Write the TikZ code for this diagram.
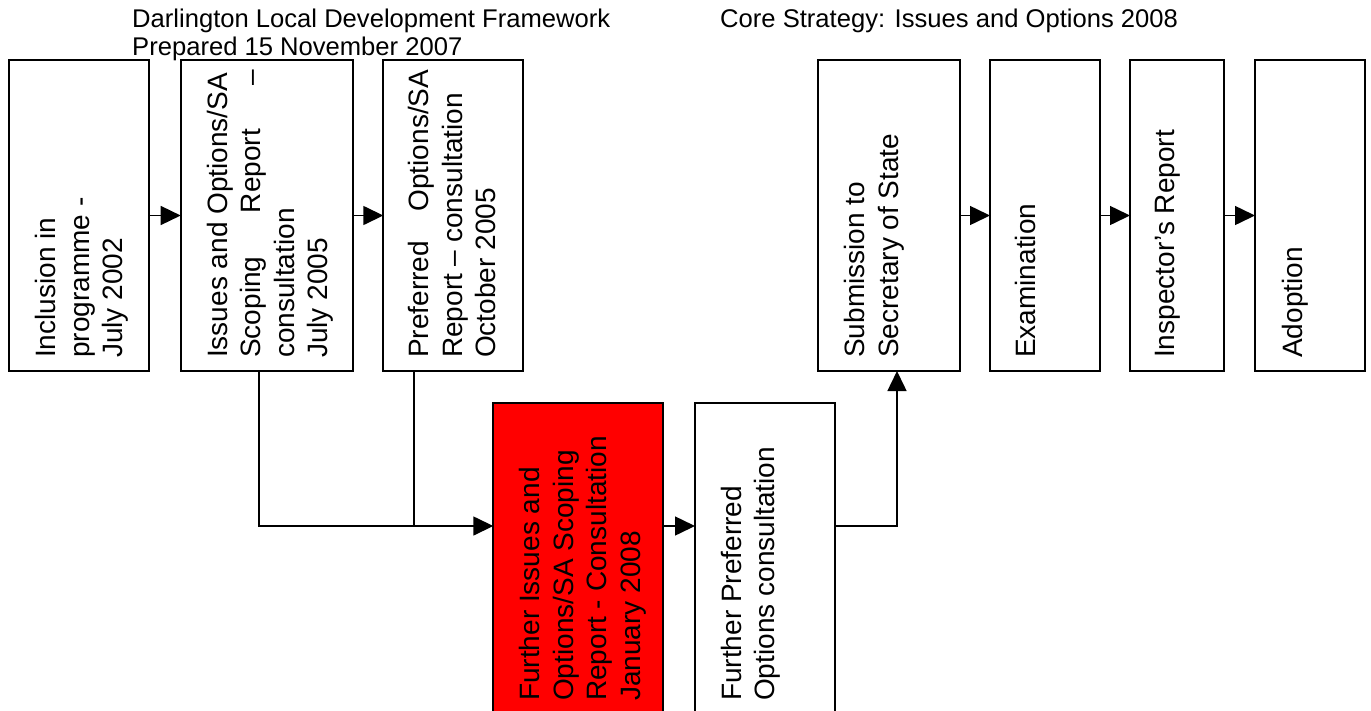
\documentclass[tikz,border=0pt]{standalone}
\usepackage{fontspec}
\setmainfont{Liberation Sans}
\usetikzlibrary{arrows.meta}
\begin{document}
\begin{tikzpicture}[x=1pt,y=-1pt,
  stage/.style={draw=black, line width=1.8pt, minimum width=#1, minimum height=311pt, inner sep=0pt, outer sep=0pt},
  lbl/.style={rotate=90, anchor=north west, inner sep=0pt, align=left, font=\fontsize{28}{33.5}\selectfont},
  hdr/.style={anchor=base west, inner sep=0pt, font=\fontsize{25.6}{27.5}\selectfont},
  conn/.style={line width=1.5pt},
  arr/.style={line width=1.5pt, -{Triangle[length=20pt,width=19pt]}}]
\useasboundingbox (0,0) rectangle (1371,710);
\clip (0,0) rectangle (1371,710);

% header texts
\node[hdr] (h1) at (132,27.7) {Darlington Local Development Framework};
\node[hdr] (h2) at (132,55.2) {Prepared 15 November 2007};
\node[hdr] (h3) at (720,27.7) {Core Strategy: Issues and Options 2008};

% top row of boxes
\node[stage=140] (A) at (79.3,215.5) {};
\node[stage=172.3] (B) at (266.85,215.5) {};
\node[stage=139.4] (C) at (453,215.5) {};
\node[stage=141.7] (D) at (889.15,215.5) {};
\node[stage=110] (E) at (1045,215.5) {};
\node[stage=94] (F) at (1177,215.5) {};
\node[stage=110] (G) at (1310,215.5) {};

% lower boxes
\node[stage=170, fill=red] (R) at (578.3,558.5) {};
\node[stage=140] (P) at (765,558.5) {};

% labels
\node[lbl] (A-t) at ([xshift=26pt,yshift=13pt]A.south west) {Inclusion in\\programme -\\July 2002};
\node[lbl] (B-t) at ([xshift=26pt,yshift=13pt]B.south west) {Issues and Options/SA\\\makebox[288pt][s]{Scoping Report –}\\consultation\\July 2005};
\node[lbl] (C-t) at ([xshift=25pt,yshift=13pt]C.south west) {\makebox[288pt][s]{Preferred Options/SA}\\Report – consultation\\October 2005};
\node[lbl] (D-t) at ([xshift=26pt,yshift=13pt]D.south west) {Submission to\\Secretary of State};
\node[lbl] (E-t) at ([xshift=25pt,yshift=13pt]E.south west) {Examination};
\node[lbl] (F-t) at ([xshift=25pt,yshift=13pt]F.south west) {Inspector’s Report};
\node[lbl] (G-t) at ([xshift=27pt,yshift=13pt]G.south west) {Adoption};
\node[lbl] (R-t) at ([xshift=26pt,yshift=13pt]R.south west) {Further Issues and\\Options/SA Scoping\\Report - Consultation\\January 2008};
\node[lbl] (P-t) at ([xshift=26pt,yshift=13pt]P.south west) {Further Preferred\\Options consultation};

% top row arrows
\draw[arr] (A.east) -- (B.west);
\draw[arr] (B.east) -- (C.west);
\draw[arr] (D.east) -- (E.west);
\draw[arr] (E.east) -- (F.west);
\draw[arr] (F.east) -- (G.west);

% lower connectors
\coordinate (j1) at (259,526);
\coordinate (j2) at (414,526);
\coordinate (j3) at (897,526);
\draw[arr] (B.south -| j1) -- (j1) -- (R.west |- j1);
\draw[conn] (C.south -| j2) -- (j2);
\draw[arr] (R.east |- j1) -- (P.west |- j1);
\draw[arr] (P.east |- j1) -- (j3) -- (D.south -| j3);
\end{tikzpicture}
\end{document}
